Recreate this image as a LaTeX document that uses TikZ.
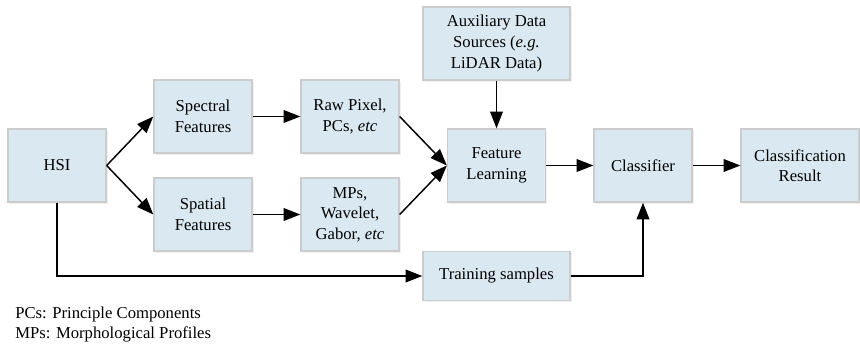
\documentclass[tikz,border=0pt]{standalone}
\usepackage{fontspec}
\setmainfont{Liberation Serif}
\usepackage{tikz}
\usetikzlibrary{arrows.meta,shadows}
\definecolor{boxblue}{HTML}{DAE9F1}
\definecolor{boxline}{HTML}{CCCCCC}

\begin{document}
\begin{tikzpicture}[x=0.75pt,y=-0.75pt,
  block/.style={draw=boxline,line width=1pt,fill=boxblue,align=center,
    minimum width=73.5pt,minimum height=54.75pt,inner sep=2pt,
    font=\fontsize{12.5}{15.4}\selectfont,
    drop shadow={shadow xshift=1.2pt,shadow yshift=-1.2pt,opacity=0.12}},
  link/.style={line width=1.1pt,-{Triangle[length=12.5pt,width=9.5pt]}}]

\useasboundingbox (0,0) rectangle (860,347);

% Blocks
\node[block] (hsi) at (57,165.5) {HSI};
\node[block] (spec) at (203,116.5) {Spectral\\Features};
\node[block] (spat) at (203,214.5) {Spatial\\Features};
\node[block] (raw) at (350,116.5) {Raw Pixel,\\PCs, \textit{etc}};
\node[block] (mps) at (350,214.5) {MPs,\\Wavelet,\\Gabor, \textit{etc}};
\node[block,minimum width=110.25pt] (aux) at (496.5,43.5) {Auxiliary Data\\Sources (\textit{e.g.}\\LiDAR Data)};
\node[block] (feat) at (496.5,165.5) {Feature\\Learning};
\node[block] (clf) at (643,165.5) {Classifier};
\node[block,minimum width=88.5pt] (res) at (800,165.5) {Classification\\Result};
\node[block,minimum width=110.25pt,minimum height=36.75pt] (train) at (496.5,276) {Training samples};

% Arrows
\draw[link] (hsi.east) -- (spec.west);
\draw[link] (hsi.east) -- (spat.west);
\draw[link] (spec) -- (raw);
\draw[link] (spat) -- (mps);
\draw[link] (raw.east) -- (feat.west);
\draw[link] (mps.east) -- (feat.west);
\draw[link] (aux) -- (feat);
\draw[link] (feat) -- (clf);
\draw[link] (clf) -- (res);
\draw[link] (hsi.south) |- (train.west);
\draw[link] (train.east) -| (clf.south);

% Notes
\node[anchor=north west,align=left,inner sep=0pt,font=\fontsize{12.5}{15}\selectfont] (notes) at (15,307)
  {PCs: Principle Components\\MPs: Morphological Profiles};

\end{tikzpicture}
\end{document}
